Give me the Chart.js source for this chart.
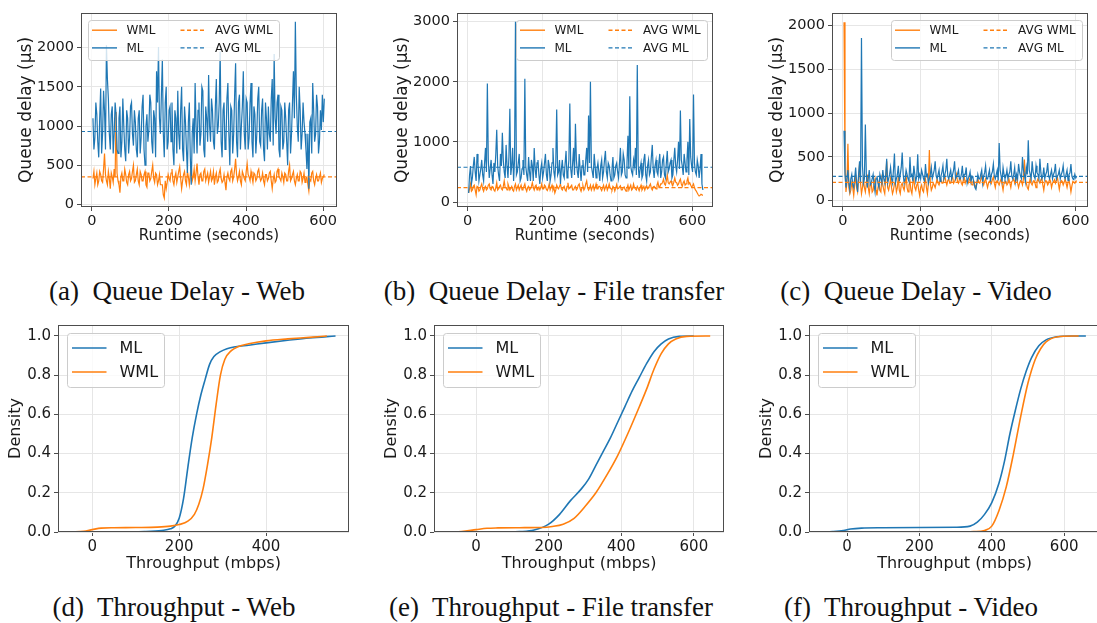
<!DOCTYPE html>
<html>
<head>
<meta charset="utf-8">
<script src="https://cdn.jsdelivr.net/npm/chart.js@4.4.1/dist/chart.umd.min.js"></script>
<style>
  html, body { margin: 0; padding: 0; background: #fff; }
  body { width: 1097px; height: 623px; overflow: hidden; position: relative; }
  canvas { position: absolute; }
  .cap {
    position: absolute; font-family: "Liberation Serif", "Times New Roman", serif;
    font-size: 27px; line-height: 1; color: #111; white-space: nowrap;
    transform: translateX(-50%);
  }
</style>
</head>
<body>
<canvas id="qa"></canvas>
<canvas id="qb"></canvas>
<canvas id="qc"></canvas>
<canvas id="ta"></canvas>
<canvas id="tb"></canvas>
<canvas id="tc"></canvas>
<div class="cap" style="left:177px;top:278px">(a)&nbsp; Queue Delay - Web</div>
<div class="cap" style="left:554px;top:278px">(b)&nbsp; Queue Delay - File transfer</div>
<div class="cap" style="left:916px;top:278px">(c)&nbsp; Queue Delay - Video</div>
<div class="cap" style="left:174px;top:594px">(d)&nbsp; Throughput - Web</div>
<div class="cap" style="left:551px;top:594px">(e)&nbsp; Throughput - File transfer</div>
<div class="cap" style="left:911px;top:594px">(f)&nbsp; Throughput - Video</div>
<script>
// queue delay (µs). "A" arrays: samples at t = 3, 8, 13, ... s
// "B" arrays: the samples in between, at t = 5.5, 10.5, ... s
const webML_A = [
  1100, 850, 1150, 600, 1480, 900, 1200, 2030, 1350, 700,
  1250, 900, 1150, 650, 1250, 800, 1000, 550, 1100, 850,
  1300, 750, 1050, 600, 1200, 850, 1400, 500, 1150, 950,
  1300, 650, 1100, 1700, 2010, 900, 1850, 600, 1500, 800,
  1250, 1300, 500, 1100, 1450, 700, 1500, 550, 1050, 400,
  1300, 250, 1100, 1550, 650, 1300, 900, 1450, 600, 1100,
  1650, 800, 1200, 700, 1600, 1000, 1950, 600, 1300, 800,
  1550, 500, 1200, 900, 1800, 600, 1400, 1000, 1700, 700,
  1300, 850, 1550, 600, 1150, 900, 1500, 750, 1350, 550,
  1100, 1250, 800, 1600, 1920, 900, 1400, 600, 1200, 800,
  1100, 500, 1300, 900, 1700, 2330, 1000, 1500, 700, 1300,
  900, 450, 200, 1100, 1550, 800, 1400, 650, 1200, 1400,
  1350
];
const webML_B = [
  700, 1300, 800, 1100, 650, 1450, 700, 1600, 900, 1150,
  650, 1300, 700, 1100, 600, 1350, 700, 1200, 650, 1250,
  900, 1200, 700, 1100, 650, 1250, 700, 1000, 800, 1400,
  800, 1200, 600, 1300, 1100, 1400, 900, 1300, 700, 1200,
  800, 700, 1200, 650, 900, 1200, 700, 1250, 700, 1050,
  600, 900, 650, 1000, 1200, 750, 1500, 700, 1250, 800,
  1000, 1350, 800, 1250, 900, 1300, 800, 1200, 700, 1350,
  900, 1250, 650, 1400, 800, 1300, 700, 1250, 900, 1350,
  700, 1300, 800, 1250, 650, 1350, 800, 1200, 700, 1300,
  700, 900, 1350, 750, 1100, 1300, 700, 1250, 700, 1300,
  800, 1200, 650, 1300, 1100, 1400, 800, 1200, 900, 1050,
  700, 900, 1050, 650, 1200, 900, 1250, 800, 950, 1050
];
const webWML_A = [
  330, 250, 400, 300, 380, 280, 650, 300, 420, 200,
  350, 450, 1180, 300, 150, 400, 300, 380, 250, 420,
  330, 500, 300, 450, 250, 380, 300, 420, 220, 400,
  330, 500, 280, 380, 300, 250, 250, 80, 200, 380,
  300, 450, 250, 400, 350, 480, 200, 380, 300, 420,
  250, 500, 350, 300, 520, 250, 400, 300, 450, 350,
  280, 420, 330, 250, 400, 300, 450, 280, 380, 180,
  400, 300, 450, 350, 580, 300, 420, 250, 380, 300,
  520, 350, 420, 280, 380, 330, 450, 300, 400, 250,
  380, 330, 420, 200, 380, 300, 450, 330, 400, 280,
  380, 300, 500, 330, 420, 250, 380, 300, 400, 330,
  280, 350, 170, 300, 420, 250, 380, 300, 400, 330,
  380
];
const webWML_B = [
  420, 330, 250, 420, 300, 450, 380, 250, 330, 400,
  280, 350, 400, 250, 350, 300, 450, 280, 380, 300,
  420, 280, 380, 300, 420, 300, 380, 250, 400, 300,
  420, 330, 400, 250, 380, 250, 120, 300, 280, 330,
  400, 300, 350, 280, 420, 330, 300, 420, 250, 350,
  380, 300, 450, 400, 350, 380, 300, 420, 300, 400,
  350, 300, 420, 350, 280, 400, 330, 300, 280, 350,
  330, 420, 300, 450, 380, 350, 300, 420, 330, 420,
  380, 300, 350, 400, 300, 420, 350, 330, 300, 380,
  300, 400, 300, 320, 280, 420, 350, 300, 350, 400,
  300, 420, 300, 380, 300, 330, 300, 420, 280, 400,
  330, 250, 320, 400, 300, 330, 300, 350, 280, 350
];
const fileML_A = [
  150, 600, 400, 750, 350, 650, 450, 700, 350, 900,
  1970, 400, 700, 300, 500, 1200, 450, 800, 1150, 500,
  950, 400, 1550, 600, 350, 3000, 500, 800, 400, 700,
  2050, 450, 750, 350, 600, 900, 400, 700, 300, 650,
  500, 800, 350, 600, 450, 900, 400, 1540, 500, 300,
  700, 400, 850, 500, 1640, 400, 900, 1300, 500, 800,
  350, 700, 450, 900, 1440, 2000, 500, 800, 400, 650,
  350, 700, 500, 850, 400, 600, 350, 750, 450, 650,
  400, 900, 500, 700, 400, 1100, 1760, 500, 700, 900,
  2280, 400, 650, 450, 800, 350, 700, 500, 950, 400,
  700, 450, 800, 500, 750, 400, 850, 550, 700, 450,
  900, 500, 1000, 1520, 600, 800, 500, 1000, 1380, 600,
  1790, 500, 700, 400, 800, 200
];
const fileML_B = [
  450, 300, 600, 500, 800, 350, 550, 450, 650, 500,
  700, 550, 450, 650, 800, 600, 350, 600, 700, 400,
  600, 750, 450, 900, 700, 450, 650, 350, 550, 450,
  600, 350, 500, 700, 350, 550, 650, 450, 550, 400,
  650, 450, 700, 350, 650, 500, 650, 450, 700, 550,
  450, 650, 400, 700, 550, 650, 450, 700, 400, 550,
  600, 450, 700, 500, 650, 600, 400, 600, 550, 500,
  600, 400, 700, 500, 650, 450, 550, 400, 600, 500,
  650, 450, 800, 450, 650, 550, 600, 450, 600, 450,
  600, 550, 400, 700, 450, 600, 450, 750, 550, 600,
  500, 650, 400, 700, 450, 650, 500, 650, 400, 700,
  600, 700, 550, 700, 450, 650, 700, 450, 750, 500,
  650, 450, 600, 550, 300
];
const fileWML_A = [
  150, 300, 200, 280, 120, 250, 200, 300, 180, 260,
  220, 300, 200, 250, 180, 320, 220, 280, 200, 350,
  240, 300, 200, 260, 180, 300, 240, 200, 280, 220,
  300, 180, 260, 220, 320, 200, 280, 240, 200, 300,
  220, 260, 190, 300, 240, 200, 150, 280, 220, 300,
  200, 260, 180, 320, 240, 280, 200, 260, 220, 300,
  180, 270, 230, 350, 200, 280, 240, 200, 300, 220,
  260, 190, 280, 240, 200, 300, 220, 260, 180, 290,
  230, 270, 200, 250, 180, 280, 240, 200, 300, 220,
  260, 190, 280, 230, 200, 270, 240, 300, 200, 260,
  220, 330, 250, 300, 380, 280, 450, 300, 350, 280,
  400, 320, 300, 380, 260, 350, 300, 400, 320, 250,
  300, 200, 150, 100, 130, 110
];
const fileWML_B = [
  220, 180, 260, 200, 260, 180, 260, 220, 240, 200,
  280, 220, 260, 200, 240, 200, 260, 220, 260, 240,
  200, 250, 230, 200, 260, 200, 280, 240, 200, 260,
  220, 240, 200, 260, 240, 260, 200, 250, 240, 220,
  280, 210, 240, 200, 280, 240, 200, 240, 260, 220,
  240, 200, 260, 220, 260, 200, 240, 200, 280, 220,
  240, 200, 300, 240, 230, 200, 280, 240, 220, 260,
  220, 240, 200, 280, 240, 230, 200, 240, 230, 220,
  250, 200, 240, 210, 230, 200, 280, 220, 240, 200,
  230, 240, 200, 260, 250, 220, 270, 230, 250, 240,
  280, 250, 300, 330, 300, 350, 320, 330, 300, 330,
  330, 280, 350, 300, 320, 280, 350, 300, 280, 270,
  240, 180, 120, 110, 120
];
const videoML_A = [
  800, 150, 350, 120, 300, 150, 380, 100, 450, 1860,
  200, 870, 150, 350, 200, 300, 100, 280, 150, 250,
  350, 200, 480, 250, 380, 200, 540, 250, 400, 300,
  550, 200, 350, 250, 500, 300, 400, 220, 530, 300,
  350, 250, 420, 300, 250, 380, 300, 450, 250, 350,
  280, 400, 300, 480, 250, 350, 300, 450, 280, 350,
  250, 400, 300, 380, 250, 330, 280, 200, 130, 300,
  250, 350, 280, 400, 250, 350, 300, 420, 250, 350,
  660, 280, 380, 250, 350, 300, 450, 250, 380, 300,
  420, 280, 500, 300, 380, 690, 300, 450, 280, 400,
  300, 480, 250, 380, 300, 430, 250, 350, 300, 420,
  280, 350, 300, 400, 250, 350, 300, 420, 250, 300,
  280
];
const videoML_B = [
  300, 250, 200, 250, 180, 260, 200, 300, 200, 400,
  250, 300, 250, 180, 250, 180, 250, 200, 300, 200,
  250, 300, 200, 300, 250, 350, 200, 300, 220, 380,
  300, 250, 300, 220, 280, 220, 300, 280, 250, 250,
  300, 220, 280, 200, 300, 250, 350, 280, 300, 220,
  330, 250, 350, 280, 300, 250, 350, 250, 300, 250,
  300, 260, 300, 200, 280, 220, 260, 150, 200, 250,
  300, 200, 320, 250, 300, 220, 330, 280, 300, 230,
  350, 220, 300, 280, 250, 330, 280, 300, 220, 250,
  330, 250, 350, 220, 300, 350, 250, 330, 250, 320,
  250, 320, 280, 250, 330, 280, 300, 250, 330, 250,
  300, 250, 330, 280, 300, 230, 320, 280, 240, 260
];
const videoWML_A = [
  2040, 100, 650, 80, 200, 60, 300, 100, 420, 80,
  250, 100, 300, 80, 200, 120, 250, 60, 200, 100,
  180, 80, 450, 120, 250, 80, 200, 100, 280, 80,
  200, 120, 300, 100, 220, 80, 250, 120, 200, 60,
  180, 100, 250, 80, 580, 120, 200, 150, 250, 180,
  230, 200, 280, 180, 250, 200, 270, 220, 300, 200,
  250, 180, 270, 230, 200, 260, 180, 220, 150, 250,
  200, 280, 180, 250, 150, 220, 200, 270, 150, 230,
  180, 250, 120, 220, 180, 250, 150, 230, 200, 280,
  150, 230, 180, 470, 200, 130, 250, 180, 230, 150,
  250, 200, 260, 120, 230, 180, 250, 150, 220, 200,
  270, 130, 230, 180, 250, 150, 230, 100, 220, 200,
  230
];
const videoWML_B = [
  400, 200, 150, 120, 150, 180, 150, 250, 200, 150,
  150, 200, 150, 180, 100, 200, 120, 150, 120, 250,
  120, 250, 150, 180, 150, 120, 200, 150, 120, 180,
  150, 200, 150, 180, 120, 200, 150, 180, 120, 150,
  120, 200, 150, 200, 200, 150, 180, 200, 200, 220,
  200, 250, 220, 230, 200, 250, 200, 250, 220, 240,
  200, 230, 200, 220, 230, 200, 220, 180, 200, 210,
  240, 220, 220, 200, 200, 230, 240, 200, 220, 200,
  220, 180, 200, 220, 200, 200, 220, 250, 240, 200,
  200, 220, 250, 250, 150, 200, 200, 220, 200, 220,
  220, 240, 180, 200, 220, 200, 220, 200, 240, 230,
  200, 200, 220, 210, 200, 210, 180, 170, 210, 220
];
// averages (dashed lines): web, file transfer, video
const avgML = [930, 578, 279];
const avgWML = [350, 240, 210];

// throughput CDF: x (mbps) and cumulative share
const webMLx  = [73, 120, 160, 180, 190, 200, 210, 220, 230, 240, 250, 260, 270, 280, 295, 310, 330, 360, 400, 450, 500, 560];
const webMLy  = [0, 0.002, 0.008, 0.016, 0.03, 0.07, 0.17, 0.33, 0.48, 0.6, 0.7, 0.78, 0.855, 0.895, 0.92, 0.935, 0.945, 0.953, 0.965, 0.978, 0.99, 1.0];
const webWMLx = [-48, -20, 0, 20, 50, 100, 150, 180, 200, 220, 235, 245, 255, 265, 275, 285, 295, 305, 320, 335, 360, 400, 450, 500, 540];
const webWMLy = [0, 0.003, 0.012, 0.02, 0.022, 0.023, 0.025, 0.03, 0.038, 0.055, 0.09, 0.14, 0.22, 0.34, 0.48, 0.65, 0.8, 0.88, 0.925, 0.945, 0.96, 0.975, 0.985, 0.993, 1.0];
const fileMLx  = [75, 120, 160, 200, 230, 260, 290, 310, 330, 350, 370, 390, 410, 430, 450, 470, 490, 510, 530, 560, 600];
const fileMLy  = [0, 0.002, 0.01, 0.04, 0.09, 0.16, 0.22, 0.27, 0.34, 0.41, 0.48, 0.56, 0.64, 0.72, 0.79, 0.86, 0.92, 0.96, 0.985, 0.998, 1.0];
const fileWMLx = [-75, -40, 0, 30, 60, 120, 180, 210, 240, 270, 300, 330, 360, 390, 420, 450, 470, 490, 510, 530, 550, 580, 645];
const fileWMLy = [0, 0.002, 0.012, 0.019, 0.021, 0.022, 0.023, 0.028, 0.04, 0.07, 0.13, 0.2, 0.29, 0.39, 0.51, 0.64, 0.73, 0.83, 0.91, 0.96, 0.985, 0.998, 1.0];
const vidMLx  = [-70, -40, -10, 10, 40, 100, 200, 300, 340, 360, 380, 400, 420, 435, 450, 465, 480, 495, 510, 530, 550, 580, 620, 660];
const vidMLy  = [0, 0.002, 0.007, 0.015, 0.02, 0.022, 0.023, 0.024, 0.03, 0.05, 0.09, 0.15, 0.25, 0.36, 0.5, 0.62, 0.73, 0.82, 0.89, 0.95, 0.98, 0.996, 1.0, 1.0];
const vidWMLx = [315, 350, 380, 400, 420, 440, 460, 480, 500, 520, 535, 550, 580, 640];
const vidWMLy = [0, 0.002, 0.008, 0.03, 0.11, 0.23, 0.4, 0.59, 0.76, 0.88, 0.935, 0.97, 0.995, 1.0];

const queueTicksX = [0, 200, 400, 600];
const queueTicksY = [
  [0, 500, 1000, 1500, 2000],
  [0, 1000, 2000, 3000],
  [0, 500, 1000, 1500, 2000]
];
const tputTicksX = [
  [0, 200, 400],
  [0, 200, 400, 600],
  [0, 200, 400, 600]
];
const tputTicksY = [0, 0.2, 0.4, 0.6, 0.8, 1.0];

const BLUE = '#1f77b4';
const ORANGE = '#ff7f0e';
const INK = '#1a1a1a';
const SPINE = '#4d4d4d';
const GRID = '#e6e6e6';

Chart.defaults.font.family = '"DejaVu Sans", sans-serif';
Chart.defaults.color = INK;

const frame = {
  id: 'frame',
  afterDraw(chart) {
    const { ctx, chartArea: a } = chart;
    ctx.save();
    ctx.strokeStyle = SPINE;
    ctx.lineWidth = 1;
    ctx.strokeRect(a.left + 0.5, a.top + 0.5, a.right - a.left - 1, a.bottom - a.top - 1);
    ctx.restore();
  }
};

// matplotlib-style legend box inside the axes
const boxLegend = {
  id: 'boxLegend',
  afterDatasetsDraw(chart, args, o) {
    const { ctx, chartArea: a } = chart;
    const x0 = o.side === 'left' ? a.left + o.padX : a.right - o.padX - o.width;
    const y0 = a.top + o.padY;
    ctx.save();
    ctx.beginPath();
    ctx.roundRect(Math.round(x0) + 0.5, Math.round(y0) + 0.5, o.width, o.height, 3);
    ctx.fillStyle = 'rgba(255,255,255,0.8)';
    ctx.fill();
    ctx.strokeStyle = '#cccccc';
    ctx.lineWidth = 1;
    ctx.stroke();
    ctx.font = o.fontSize + 'px "DejaVu Sans"';
    ctx.textBaseline = 'middle';
    o.items.forEach((di, i) => {
      const ds = chart.data.datasets[di];
      const col = Math.floor(i / o.rows), row = i % o.rows;
      const hx = x0 + o.colX[col], hy = y0 + o.rowY[row];
      ctx.strokeStyle = ds.borderColor;
      ctx.lineWidth = o.lineWidth;
      ctx.setLineDash(ds.borderDash || []);
      ctx.beginPath();
      ctx.moveTo(hx, hy);
      ctx.lineTo(hx + o.handle, hy);
      ctx.stroke();
      ctx.setLineDash([]);
      ctx.fillStyle = INK;
      ctx.fillText(ds.label, hx + o.handle + o.gap, hy + 0.5);
    });
    ctx.restore();
  }
};

function pts(xs, ys) {
  return ys.map((y, i) => ({ x: xs[i], y: y }));
}
// merge the on-grid and in-between samples in time order
function interleave(a, b) {
  const out = [];
  a.forEach((v, i) => { out.push(v); if (i < b.length) out.push(b[i]); });
  return out;
}
function runtime(n) {
  return Array.from({ length: n }, (_, i) => 3 + 2.5 * i);
}
function fixTicks(list) {
  return s => { s.ticks = list.map(v => ({ value: v })); };
}

function makeChart(id, p, datasets, legend) {
  const cv = document.getElementById(id);
  cv.width = p.w;
  cv.height = p.h;
  cv.style.left = p.left + 'px';
  cv.style.top = p.top + 'px';
  return new Chart(cv, {
    type: 'line',
    data: { datasets: datasets },
    options: {
      responsive: false,
      animation: false,
      devicePixelRatio: 1,
      layout: { padding: { top: p.padTop, right: p.padRight, left: 0, bottom: 0 } },
      elements: { point: { radius: 0 }, line: { fill: false } },
      plugins: {
        legend: { display: false },
        tooltip: { enabled: false },
        boxLegend: legend
      },
      scales: {
        x: {
          type: 'linear',
          min: p.xMin, max: p.xMax,
          afterBuildTicks: fixTicks(p.xTicks),
          afterFit: s => { s.height = p.xh; },
          border: { display: false },
          grid: { color: GRID, tickColor: SPINE, tickLength: 4 },
          ticks: { autoSkip: false, maxRotation: 0, padding: 2, font: { size: p.tickSize }, callback: v => String(v) },
          title: { display: true, text: p.xTitle, font: { size: p.xTitleSize }, padding: { top: 0, bottom: p.xTitlePad } }
        },
        y: {
          type: 'linear',
          min: p.yMin, max: p.yMax,
          afterBuildTicks: fixTicks(p.yTicks),
          afterFit: s => { s.width = p.yw; },
          border: { display: false },
          grid: { color: GRID, tickColor: SPINE, tickLength: 4 },
          ticks: { autoSkip: false, padding: 3, font: { size: p.tickSize }, callback: p.yFmt },
          title: { display: true, text: p.yTitle, font: { size: p.yTitleSize }, padding: { top: p.yTitlePad, bottom: 0 } }
        }
      }
    },
    plugins: [frame, boxLegend]
  });
}

// ---- top row: queue delay ----
const queueSeries = [
  [interleave(webML_A, webML_B), interleave(webWML_A, webWML_B)],
  [interleave(fileML_A, fileML_B), interleave(fileWML_A, fileWML_B)],
  [interleave(videoML_A, videoML_B), interleave(videoWML_A, videoWML_B)]
];
const queueBox = [
  { id: 'qa', left: 0,   xMin: -28, xMax: 636, yMin: -34, yMax: 2443, side: 'left' },
  { id: 'qb', left: 376, xMin: -28, xMax: 655, yMin: -83, yMax: 3144, side: 'right' },
  { id: 'qc', left: 751, xMin: -28, xMax: 632, yMin: -72, yMax: 2145, side: 'right' }
];
queueBox.forEach((b, k) => {
  const [ml, wml] = queueSeries[k];
  const t = runtime(ml.length);
  const sets = [
    { label: 'WML', data: pts(t, wml), borderColor: ORANGE, borderWidth: 1.2, tension: 0, order: 4 },
    { label: 'ML', data: pts(t, ml), borderColor: BLUE, borderWidth: 1.2, tension: 0, order: 3 },
    { label: 'AVG WML', data: [{ x: b.xMin, y: avgWML[k] }, { x: b.xMax, y: avgWML[k] }],
      borderColor: ORANGE, borderDash: [4, 2.5], borderWidth: 1.2, order: 2 },
    { label: 'AVG ML', data: [{ x: b.xMin, y: avgML[k] }, { x: b.xMax, y: avgML[k] }],
      borderColor: BLUE, borderDash: [4, 2.5], borderWidth: 1.2, order: 1 }
  ];
  makeChart(b.id, {
    left: b.left, top: 0, w: 345, h: 250, padTop: 13, padRight: 8, yw: 81, xh: 43,
    xMin: b.xMin, xMax: b.xMax, yMin: b.yMin, yMax: b.yMax,
    xTicks: queueTicksX, yTicks: queueTicksY[k], tickSize: 14.5,
    xTitle: 'Runtime (seconds)', xTitleSize: 15, xTitlePad: 5,
    yTitle: 'Queue delay (µs)', yTitleSize: 17, yTitlePad: 16,
    yFmt: v => String(v)
  }, sets, {
    side: b.side, padX: 6.5, padY: 6.5, width: 191, height: 40, fontSize: 12,
    rows: 2, colX: [4.5, 93], rowY: [10.7, 28.4], handle: 25, gap: 9.5, lineWidth: 1.4,
    items: [0, 1, 2, 3]
  });
});

// ---- bottom row: throughput CDF ----
const tputSeries = [
  [webMLx, webMLy, webWMLx, webWMLy],
  [fileMLx, fileMLy, fileWMLx, fileWMLy],
  [vidMLx, vidMLy, vidWMLx, vidWMLy]
];
const tputBox = [
  { id: 'ta', left: 0,   w: 357, padRight: 8, xMin: -79,  xMax: 591 },
  { id: 'tb', left: 376, w: 356, padRight: 8, xMin: -116, xMax: 683 },
  { id: 'tc', left: 751, w: 350, padRight: 1, xMin: -105, xMax: 699 }
];
tputBox.forEach((b, k) => {
  const [mx, my, wx, wy] = tputSeries[k];
  const sets = [
    { label: 'ML', data: pts(mx, my), borderColor: BLUE, borderWidth: 1.6, cubicInterpolationMode: 'monotone', order: 2 },
    { label: 'WML', data: pts(wx, wy), borderColor: ORANGE, borderWidth: 1.6, cubicInterpolationMode: 'monotone', order: 1 }
  ];
  makeChart(b.id, {
    left: b.left, top: 310, w: b.w, h: 265, padTop: 15, padRight: b.padRight, yw: 58, xh: 43,
    xMin: b.xMin, xMax: b.xMax, yMin: 0, yMax: 1.056,
    xTicks: tputTicksX[k], yTicks: tputTicksY, tickSize: 15,
    xTitle: 'Throughput (mbps)', xTitleSize: 16, xTitlePad: 1.5,
    yTitle: 'Density', yTitleSize: 16, yTitlePad: 6.5,
    yFmt: v => v.toFixed(1)
  }, sets, {
    side: 'left', padX: 9, padY: 8, width: 97, height: 54, fontSize: 16,
    rows: 2, colX: [5], rowY: [15, 39], handle: 34.5, gap: 13, lineWidth: 1.6,
    items: [0, 1]
  });
});
</script>
</body>
</html>
